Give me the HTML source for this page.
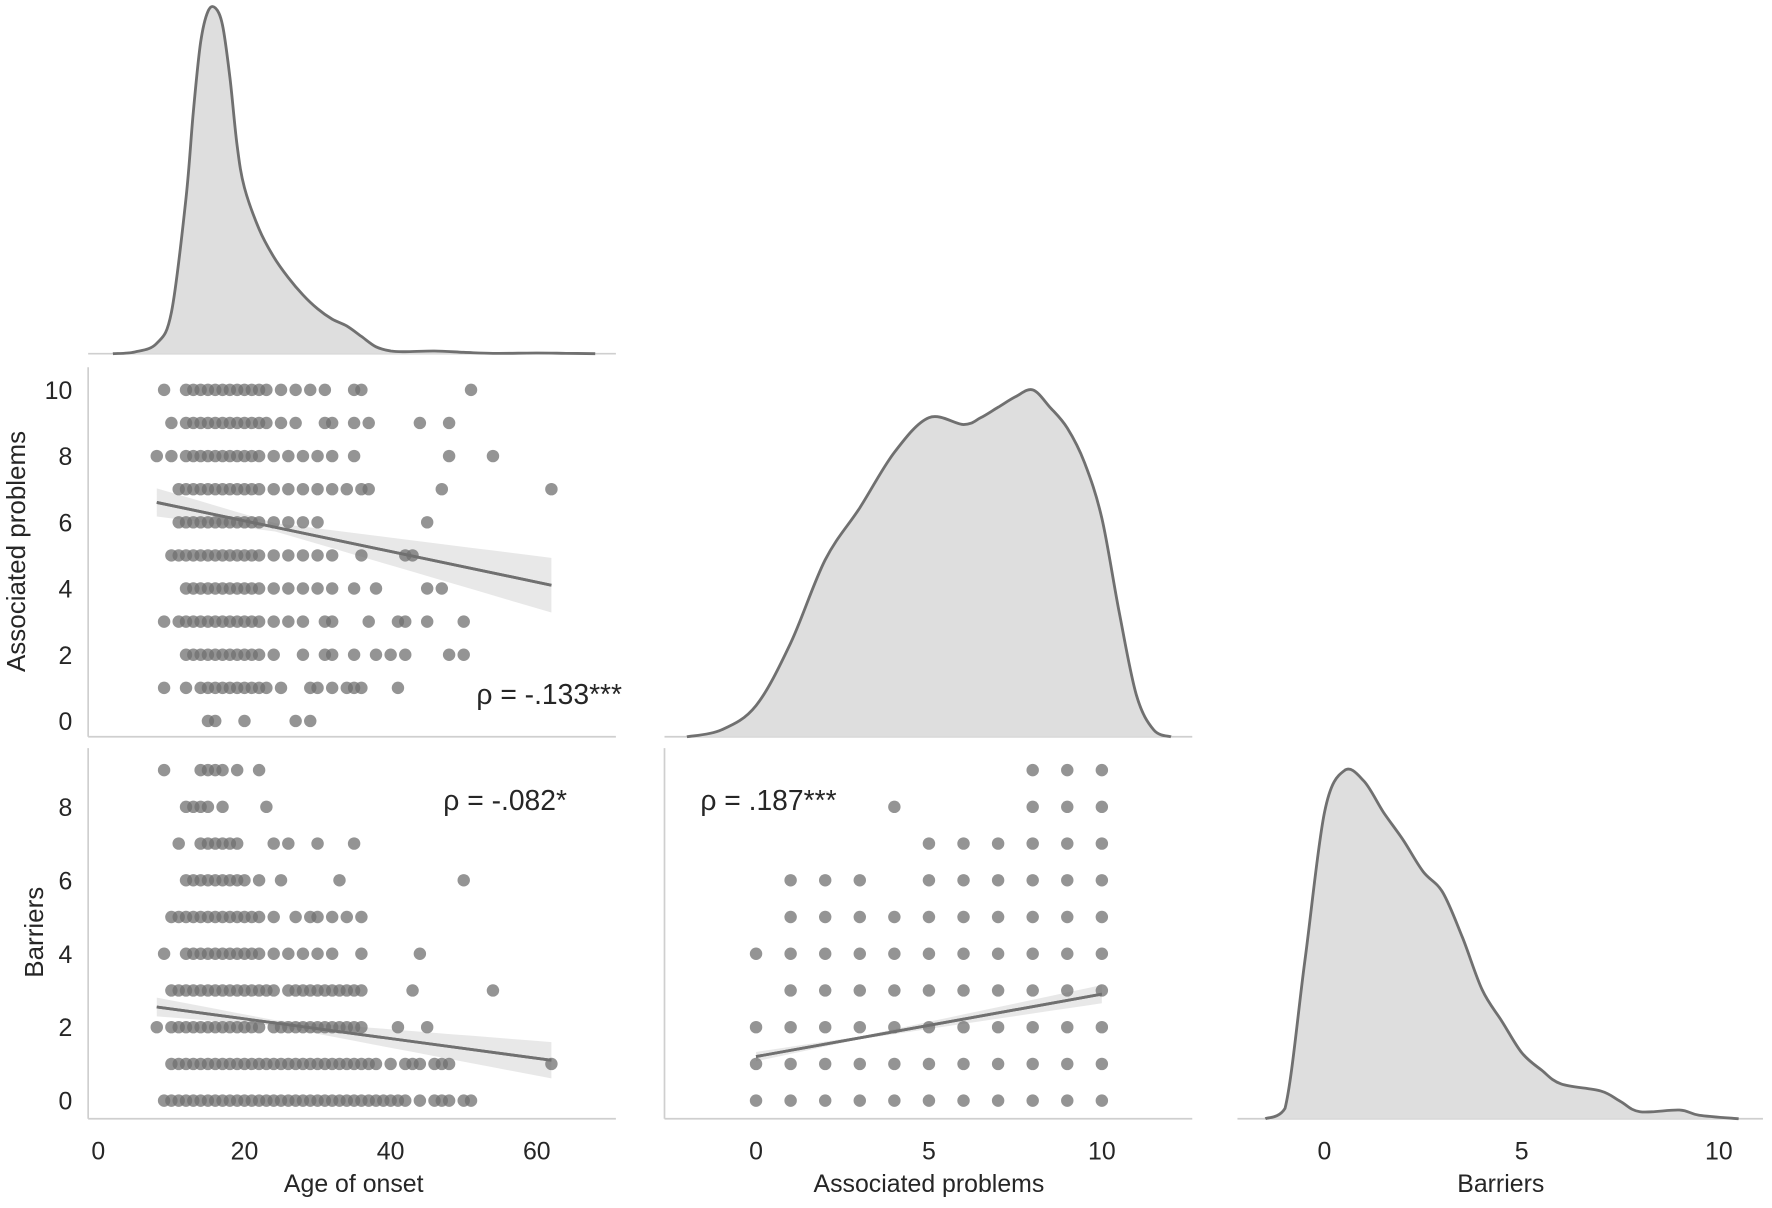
<!DOCTYPE html>
<html><head><meta charset="utf-8"><style>
html,body{margin:0;padding:0;background:#fff;}
svg{display:block;font-family:"Liberation Sans",sans-serif;}
</style></head><body>
<svg id="c" width="1772" height="1208" viewBox="0 0 1568 1069" preserveAspectRatio="none"></svg>
<script>
// ---- data ----
const ageKdeX=[2,5,8,10,12,13,14,15,16,17,18,19,20,22,24,26,28,30,32,34,36,38,40,42,46,50,54,60,64,68];
const ageKdeY=[0,0.005,0.03,0.12,0.45,0.7,0.9,0.99,1.0,0.95,0.8,0.6,0.48,0.36,0.28,0.22,0.17,0.13,0.1,0.08,0.05,0.02,0.008,0.006,0.008,0.004,0.001,0.002,0.001,0];
const apKdeX=[-2,-1,0,1,2,3,4,5,6,6.5,7,7.5,8,8.5,9,9.5,10,10.5,11,11.5,12];
const apKdeY=[0,0.02,0.09,0.27,0.51,0.66,0.82,0.92,0.9,0.92,0.95,0.98,1.0,0.95,0.89,0.79,0.63,0.36,0.12,0.02,0];
const barKdeX=[-1.5,-1,-0.5,0,0.5,1,1.5,2,2.5,3,3.5,4,4.5,5,5.5,6,7,7.5,8,9,9.5,10.5];
const barKdeY=[0,0.03,0.45,0.88,1.0,0.97,0.88,0.8,0.71,0.65,0.52,0.37,0.28,0.19,0.14,0.1,0.08,0.05,0.02,0.025,0.01,0];
const ageApLevels=[10,9,8,7,6,5,4,3,2,1,0];
const ageApAges=[
[9,12,13,14,15,16,17,18,19,20,21,22,23,25,27,29,31,35,36,51],
[10,12,13,14,15,16,17,18,19,20,21,22,23,25,27,31,32,35,37,44,48],
[8,10,12,13,14,15,16,17,18,19,20,21,22,24,26,28,30,32,35,48,54],
[11,12,13,14,15,16,17,18,19,20,21,22,24,26,28,30,32,34,36,37,47,62],
[11,12,13,14,15,16,17,18,19,20,21,22,24,26,28,30,45],
[10,11,12,13,14,15,16,17,18,19,20,21,22,24,26,28,30,32,36,42,43],
[12,13,14,15,16,17,18,19,20,21,22,24,26,28,30,32,35,38,45,47],
[9,11,12,13,14,15,16,17,18,19,20,21,22,24,26,28,31,32,37,41,42,45,50],
[12,13,14,15,16,17,18,19,20,21,22,24,28,31,32,35,38,40,42,48,50],
[9,12,14,15,16,17,18,19,20,21,22,23,25,29,30,32,34,35,36,41],
[15,16,20,27,29]];
const ageBarLevels=[9,8,7,6,5,4,3,2,1,0];
const ageBarAges=[
[9,14,15,16,17,19,22],
[12,13,14,15,17,23],
[11,14,15,16,17,18,19,24,26,30,35],
[12,13,14,15,16,17,18,19,20,22,25,33,50],
[10,11,12,13,14,15,16,17,18,19,20,21,22,24,27,29,30,32,34,36],
[9,12,13,14,15,16,17,18,19,20,21,22,24,26,28,30,32,36,44],
[10,11,12,13,14,15,16,17,18,19,20,21,22,23,24,26,27,28,29,30,31,32,33,34,35,36,43,54],
[8,10,11,12,13,14,15,16,17,18,19,20,21,22,24,25,26,27,28,29,30,31,32,33,34,35,36,41,45],
[10,11,12,13,14,15,16,17,18,19,20,21,22,23,24,25,26,27,28,29,30,31,32,33,34,35,36,37,38,40,42,43,44,46,47,48,62],
[9,10,11,12,13,14,15,16,17,18,19,20,21,22,23,24,25,26,27,28,29,30,31,32,33,34,35,36,37,38,39,40,41,42,44,46,47,48,50,51]];
const apBarLevels=[9,8,7,6,5,4,3,2,1,0];
const apBarAps=[
[8,9,10],[4,8,9,10],[5,6,7,8,9,10],[1,2,3,5,6,7,8,9,10],
[1,2,3,4,5,6,7,8,9,10],[0,1,2,3,4,5,6,7,8,9,10],[1,2,3,4,5,6,7,8,9,10],
[0,1,2,3,4,5,6,7,8,9,10],[0,1,2,3,4,5,6,7,8,9,10],[0,1,2,3,4,5,6,7,8,9,10]];
const fitAgeAp=[[8,6.6],[62,4.1]];
const fitAgeBar=[[8,2.55],[62,1.1]];
const fitApBar=[[0,1.2],[10,2.9]];
const ageTicks=[0,20,40,60], apTicks=[0,5,10], barTicks=[0,5,10];
const apYTicks=[0,2,4,6,8,10], barYTicks=[0,2,4,6,8];

// ---- scales ----
const xAge=v=>87+v*(475-87)/60;
const xAp=v=>669+v*(975-669)/10;
const xBar=v=>1172+v*(1521-1172)/10;
const yAp=v=>638-v*(638-345)/10;
const yBar=v=>974-v*(974-714)/8;
const svg=document.getElementById('c');
const NS='http://www.w3.org/2000/svg';
function mk(tag,attrs,parent){const e=document.createElementNS(NS,tag);for(const k in attrs)e.setAttribute(k,attrs[k]);(parent||svg).appendChild(e);return e;}
function txt(s,x,y,size,anchor,name,rot){const t=mk('text',{x:x,y:y,'font-size':size,'text-anchor':anchor,fill:'#262626'});if(rot)t.setAttribute('transform',`rotate(-90 ${x} ${y})`);t.textContent=s;

return t;}

// spines
[[78,313,545,313],[78,652,545,652],[78,990,545,990],[588,652,1055,652],[588,990,1055,990],[1095,990,1560,990],[78,325,78,652],[78,662,78,990],[588,662,588,990]].forEach(a=>{
const l=mk('line',{x1:a[0],y1:a[1],x2:a[2],y2:a[3],stroke:'#cfcfcf','stroke-width':1.5});

});

function smooth(pts,base){const cl=v=>Math.min(v,base);let d=`M${pts[0][0].toFixed(1)},${pts[0][1].toFixed(1)}`;
for(let i=0;i<pts.length-1;i++){const p0=pts[Math.max(0,i-1)],p1=pts[i],p2=pts[i+1],p3=pts[Math.min(pts.length-1,i+2)];
const c1=[p1[0]+(p2[0]-p0[0])/6,cl(p1[1]+(p2[1]-p0[1])/6)],c2=[p2[0]-(p3[0]-p1[0])/6,cl(p2[1]-(p3[1]-p1[1])/6)];
d+=` C${c1[0].toFixed(1)},${c1[1].toFixed(1)} ${c2[0].toFixed(1)},${c2[1].toFixed(1)} ${p2[0].toFixed(1)},${p2[1].toFixed(1)}`;}return d;}
// KDEs
function kde(xs,ys,sx,base,h,name){const pts=xs.map((x,i)=>[sx(x),base-ys[i]*h]);const d=smooth(pts,base);
const f=mk('path',{d:d+` L${pts[pts.length-1][0]},${base} L${pts[0][0]},${base} Z`,fill:'#dedede',stroke:'none'});


const p=mk('path',{d:d,fill:'none',stroke:'#707070','stroke-width':2.5,'stroke-linejoin':'round'});

}
kde(ageKdeX,ageKdeY,xAge,313,306,'age-kde');
kde(apKdeX,apKdeY,xAp,652,307,'ap-kde');
kde(barKdeX,barKdeY,xBar,990,308,'barriers-kde');

// scatter
function scatter(levels,vals,sx,sy,name){levels.forEach((lv,i)=>vals[i].forEach(v=>{
const c=mk('circle',{cx:sx(v),cy:sy(lv),r:5.5,fill:'#707070','fill-opacity':0.75});

}));}
function fit(pts,sx,sy,spread,name){const [a,b]=pts;const m=(b[1]-a[1])/(b[0]-a[0]);const xm=(a[0]+b[0])/2*0.6+a[0]*0.4;
const n=20;let up=[],lo=[];for(let i=0;i<=n;i++){const x=a[0]+(b[0]-a[0])*i/n;const y=a[1]+m*(x-a[0]);const w=spread*(0.25+Math.abs(x-xm)/(b[0]-a[0])*2);
up.push(sx(x).toFixed(1)+','+sy(y+w).toFixed(1));lo.unshift(sx(x).toFixed(1)+','+sy(y-w).toFixed(1));}
if(spread>0){const band=mk('polygon',{points:up.concat(lo).join(' '),fill:'#e4e4e4','fill-opacity':0.85});

}
const l=mk('line',{x1:sx(a[0]),y1:sy(a[1]),x2:sx(b[0]),y2:sy(b[1]),stroke:'#707070','stroke-width':2.5});

}
fit(fitAgeAp,xAge,yAp,0.5,'age-ap-fit');
scatter(ageApLevels,ageApAges,xAge,yAp,'age-ap-point');
fit(fitAgeAp,xAge,yAp,0,'age-ap-fit-top');
fit(fitAgeBar,xAge,yBar,0.3,'age-barriers-fit');
scatter(ageBarLevels,ageBarAges,xAge,yBar,'age-barriers-point');
fit(fitAgeBar,xAge,yBar,0,'age-barriers-fit-top');
fit(fitApBar,xAp,yBar,0.15,'ap-barriers-fit');
scatter(apBarLevels,apBarAps,xAp,yBar,'ap-barriers-point');
fit(fitApBar,xAp,yBar,0,'ap-barriers-fit-top');

// ticks
ageTicks.forEach(t=>txt(String(t),xAge(t),1026,22,'middle','x-tick-age'));
apTicks.forEach(t=>txt(String(t),xAp(t),1026,22,'middle','x-tick-ap'));
barTicks.forEach(t=>txt(String(t),xBar(t),1026,22,'middle','x-tick-barriers'));
apYTicks.forEach(t=>txt(String(t),64,yAp(t)+8,22,'end','y-tick-ap'));
barYTicks.forEach(t=>txt(String(t),64,yBar(t)+8,22,'end','y-tick-barriers'));
txt('Age of onset',313,1055,22,'middle','x-axis-title-age');
txt('Associated problems',822,1055,22,'middle','x-axis-title-ap');
txt('Barriers',1328,1055,22,'middle','x-axis-title-barriers');
txt('Associated problems',22,488,23,'middle','y-axis-title-ap',true);
txt('Barriers',38,825,23,'middle','y-axis-title-barriers',true);
txt('ρ = -.133***',486,623,25,'middle','rho-age-ap');
txt('ρ = -.082*',447,717,25,'middle','rho-age-barriers');
txt('ρ = .187***',680,717,25,'middle','rho-ap-barriers');
</script>
</body></html>
